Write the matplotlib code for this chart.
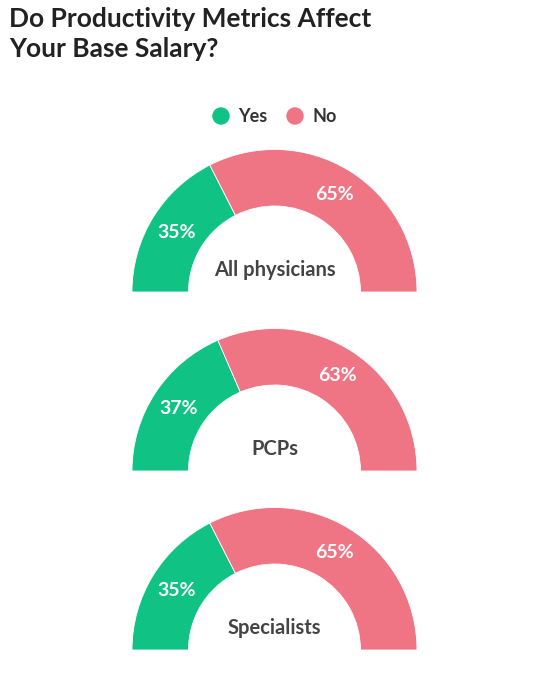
import matplotlib.pyplot as plt
from matplotlib.patches import Wedge, Circle
import numpy as np

plt.rcParams['font.family'] = ['Lato', 'DejaVu Sans']

# data
groups = ["All physicians", "PCPs", "Specialists"]
yes_pct = [35, 37, 35]
no_pct = [65, 63, 65]
series = ["Yes", "No"]
colors = ["#10c384", "#ef7585"]

W, H = 541, 673
fig = plt.figure(figsize=(W / 100, H / 100), dpi=100)
ax = fig.add_axes([0, 0, 1, 1])
ax.set_xlim(0, W)
ax.set_ylim(0, H)
ax.set_aspect('equal')
ax.axis('off')

# title
fig.text(9 / W, 1 - 7 / H, "Do Productivity Metrics Affect\nYour Base Salary?",
         ha='left', va='top', fontsize=19, fontweight='bold', color='#222222',
         linespacing=1.3)

# legend
leg_y = H - 116
for i, (name, c) in enumerate(zip(series, colors)):
    cx = 221 + i * 74
    ax.add_patch(Circle((cx, leg_y), 8.7, color=c, lw=0))
    ax.text(cx + 17, leg_y, name, ha='left', va='center', fontsize=13,
            fontweight='bold', color='#333333')

# half donuts
cx = 274.5
bottoms = [292, 471, 650]
r_out = 142.5
r_in = 86
for g, y, n, b in zip(groups, yes_pct, no_pct, bottoms):
    cy = H - b
    split = 180 - y * 1.8
    ax.add_patch(Wedge((cx, cy), r_out, split, 180, width=r_out - r_in,
                       facecolor=colors[0], edgecolor='white', lw=0.6))
    ax.add_patch(Wedge((cx, cy), r_out, 0, split, width=r_out - r_in,
                       facecolor=colors[1], edgecolor='white', lw=0.6))
    rm = (r_out + r_in) / 2
    for val, a in [(y, np.radians((180 + split) / 2)), (n, np.radians(split / 2))]:
        ax.text(cx + rm * np.cos(a), cy + rm * np.sin(a), f"{val}%",
                ha='center', va='center', fontsize=14, fontweight='bold',
                color='white')
    ax.text(cx, cy + 22, g, ha='center', va='center', fontsize=14.5,
            fontweight='bold', color='#444444')

fig.savefig("out.png", dpi=100, facecolor='white')
